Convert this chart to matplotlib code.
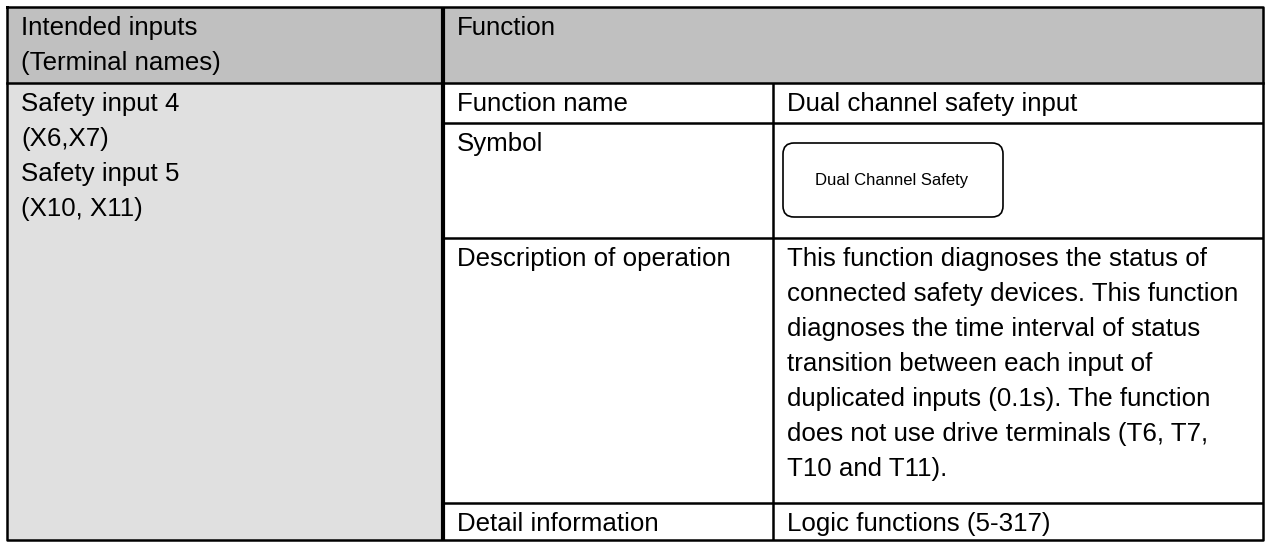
import matplotlib.pyplot as plt
from matplotlib.patches import Rectangle, FancyBboxPatch

plt.rcParams["font.family"] = ["Liberation Sans", "DejaVu Sans"]

# table content
header_left = ["Intended inputs", "(Terminal names)"]
header_right = ["Function"]
inputs = ["Safety input 4", "(X6,X7)", "Safety input 5", "(X10, X11)"]
row_labels = ["Function name", "Symbol", "Description of operation", "Detail information"]
function_name = ["Dual channel safety input"]
symbol_text = "Dual Channel Safety"
description = [
    "This function diagnoses the status of",
    "connected safety devices. This function",
    "diagnoses the time interval of status",
    "transition between each input of",
    "duplicated inputs (0.1s). The function",
    "does not use drive terminals (T6, T7,",
    "T10 and T11).",
]
detail = ["Logic functions (5-317)"]

# layout in pixels
left, right, top, bottom = 7, 1263, 7, 540
col1, col2 = 443, 773
header_bot = 83
row_tops = [83, 123, 238, 503]
line_h = 35
fs = 18.6

fig = plt.figure(figsize=(12.71, 5.42), dpi=100)
ax = fig.add_axes([0, 0, 1, 1])
ax.set_xlim(0, 1271)
ax.set_ylim(542, 0)
ax.axis("off")

# backgrounds
ax.add_patch(Rectangle((left, top), right - left, header_bot - top, color="#c0c0c0", lw=0))
ax.add_patch(Rectangle((left, header_bot), col1 - left, bottom - header_bot, color="#e0e0e0", lw=0))

# grid lines
lw = 1.8
ax.plot([left, right, right, left, left], [top, top, bottom, bottom, top], color="black", lw=lw)
ax.plot([left, right], [header_bot, header_bot], color="black", lw=lw)
ax.plot([col1, col1], [top, bottom], color="black", lw=3, solid_capstyle="butt")
ax.plot([col2, col2], [header_bot, bottom], color="black", lw=lw, solid_capstyle="butt")
for y in row_tops[1:]:
    ax.plot([col1, right], [y, y], color="black", lw=lw, solid_capstyle="butt")


def put_lines(x, y0, lines, **kw):
    for i, s in enumerate(lines):
        ax.text(x, y0 + 28 + i * line_h, s, fontsize=fs, va="baseline", ha="left", **kw)


put_lines(21, top, header_left)
put_lines(457, top, header_right)
put_lines(21, header_bot, inputs)
for y, lab in zip(row_tops, row_labels):
    put_lines(457, y, [lab])
put_lines(787, row_tops[0], function_name)
put_lines(787, row_tops[2], description)
put_lines(787, row_tops[3], detail)

# symbol box
ax.add_patch(FancyBboxPatch((783, 143), 220, 74, boxstyle="round,pad=0,rounding_size=11",
                            fc="white", ec="black", lw=1.2))
ax.text(892, 181, symbol_text, fontsize=12, ha="center", va="center")

plt.savefig("out.png", dpi=100)
